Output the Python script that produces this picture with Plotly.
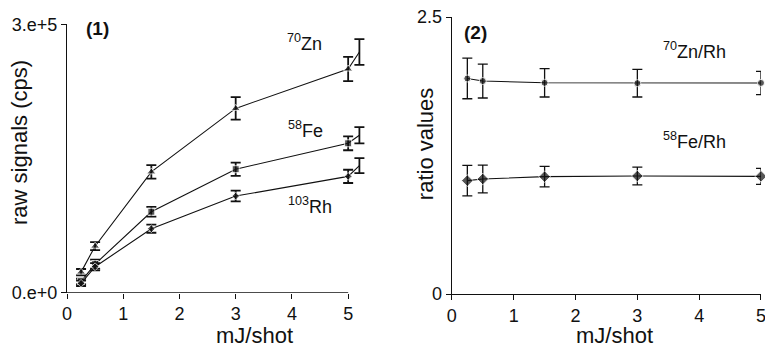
import plotly.graph_objects as go

# ---------------- data ----------------
energy_raw = [0.25, 0.5, 1.5, 3, 5, 5.2]
zn_raw = [23000, 52000, 135000, 206000, 250000, 269000]
zn_raw_err = [3500, 4500, 7500, 12500, 13500, 14300]
fe_raw = [12600, 32000, 90500, 138000, 167000, 176000]
fe_raw_err = [3000, 5000, 5500, 7400, 7800, 9000]
rh_raw = [10500, 29000, 71500, 108000, 130000, 142000]
rh_raw_err = [3000, 4000, 4500, 6000, 7400, 8400]

energy_ratio = [0.25, 0.5, 1.5, 3, 5]
zn_rh = [1.945, 1.922, 1.906, 1.903, 1.905]
zn_rh_err = [0.183, 0.153, 0.128, 0.125, 0.105]
fe_rh = [1.023, 1.038, 1.059, 1.065, 1.062]
fe_rh_err = [0.137, 0.125, 0.093, 0.080, 0.072]

x_ticks = [0, 1, 2, 3, 4, 5]
raw_ticks = [0, 300000]
raw_ticktext = ["0.e+0", "3.e+5"]
ratio_ticks = [0, 2.5]
ratio_ticktext = ["0", "2.5"]

# ---------------- layout geometry ----------------
W, H = 765, 347
L, R, T, B = 67, 4.3, 16.7, 52.7
PW = W - L - R
PH = H - T - B

def px(x):
    return (x - L) / PW

def py(y):
    return (H - B - y) / PH

FONT = "Liberation Sans, Arial, Helvetica, sans-serif"
INK = "#111111"

fig = go.Figure()

def add_series(x, y, err, symbol, size, xa, ya, eb_thick, last_no_marker=False):
    sizes = [size] * len(x)
    if last_no_marker:
        sizes[-1] = 0
    fig.add_trace(go.Scatter(
        x=x, y=y, mode="lines+markers",
        line=dict(color=INK, width=1.1),
        marker=dict(symbol=symbol, size=sizes, color=INK),
        error_y=dict(type="data", array=err, visible=True, color=INK,
                     thickness=eb_thick, width=5),
        xaxis=xa, yaxis=ya, cliponaxis=False, showlegend=False,
    ))

add_series(energy_raw, zn_raw, zn_raw_err, "triangle-up", 8, "x", "y", 1.8, True)
add_series(energy_raw, fe_raw, fe_raw_err, "square", 7, "x", "y", 1.8, True)
add_series(energy_raw, rh_raw, rh_raw_err, "diamond", 6, "x", "y", 1.8, True)
add_series(energy_ratio, zn_rh, zn_rh_err, "circle", 7, "x2", "y2", 1.3)
add_series(energy_ratio, fe_rh, fe_rh_err, "diamond", 9, "x2", "y2", 1.3)

axis_common = dict(showgrid=False, zeroline=False, ticks="outside", ticklen=5,
                   tickwidth=1.3, tickcolor=INK, linecolor=INK, linewidth=1.3,
                   ticklabeloverflow="allow", automargin=False,
                   tickfont=dict(family=FONT, size=18, color=INK))

x1_right = 367.7
x2_left = 451.7
fig.update_layout(
    width=W, height=H,
    margin=dict(l=L, r=R, t=T, b=B, autoexpand=False),
    paper_bgcolor="white", plot_bgcolor="white",
    xaxis=dict(domain=[0, px(x1_right)], range=[0, 5.35], tickvals=x_ticks,
               showline=False, anchor="y", **axis_common),
    yaxis=dict(domain=[py(293), py(24)], range=[0, 300000], tickvals=raw_ticks,
               ticktext=raw_ticktext, showline=True, anchor="x", **axis_common),
    xaxis2=dict(domain=[px(x2_left), 1], range=[0, 5], tickvals=x_ticks,
                showline=True, anchor="y2", **axis_common),
    yaxis2=dict(domain=[0, 1], range=[0, 2.5], tickvals=ratio_ticks,
                ticktext=ratio_ticktext, showline=True, anchor="x2", **axis_common),
)

# panel 1 x-axis line only runs to 5 (range extends to show the final point)
fig.add_shape(type="line", xref="x", yref="y", x0=0, x1=5, y0=0, y1=0,
              line=dict(color=INK, width=1.3), layer="above")

def label(x, y, text, size=17, bold=False, angle=0):
    if bold:
        text = "<b>" + text + "</b>"
    fig.add_annotation(x=px(x), y=py(y), xref="paper", yref="paper", text=text,
                       showarrow=False, xanchor="center", yanchor="middle",
                       textangle=angle,
                       font=dict(family=FONT, size=size, color=INK))

label(97, 28, "(1)", size=19, bold=True)
label(475, 32, "(2)", size=19, bold=True)
label(304, 42, "<sup>70</sup>Zn", size=18)
label(305, 129, "<sup>58</sup>Fe", size=18)
label(310, 206, "<sup>103</sup>Rh", size=18)
label(694, 50, "<sup>70</sup>Zn/Rh", size=18)
label(694, 140, "<sup>58</sup>Fe/Rh", size=18)
label(19, 142, "raw signals (cps)", size=22, angle=-90)
label(425, 144, "ratio values", size=22, angle=-90)
label(254, 336, "mJ/shot", size=22)
label(614, 336, "mJ/shot", size=22)

fig.write_html("out.html", config={"displayModeBar": False},
               post_script="document.body.style.margin='0';document.body.style.padding='0';")
